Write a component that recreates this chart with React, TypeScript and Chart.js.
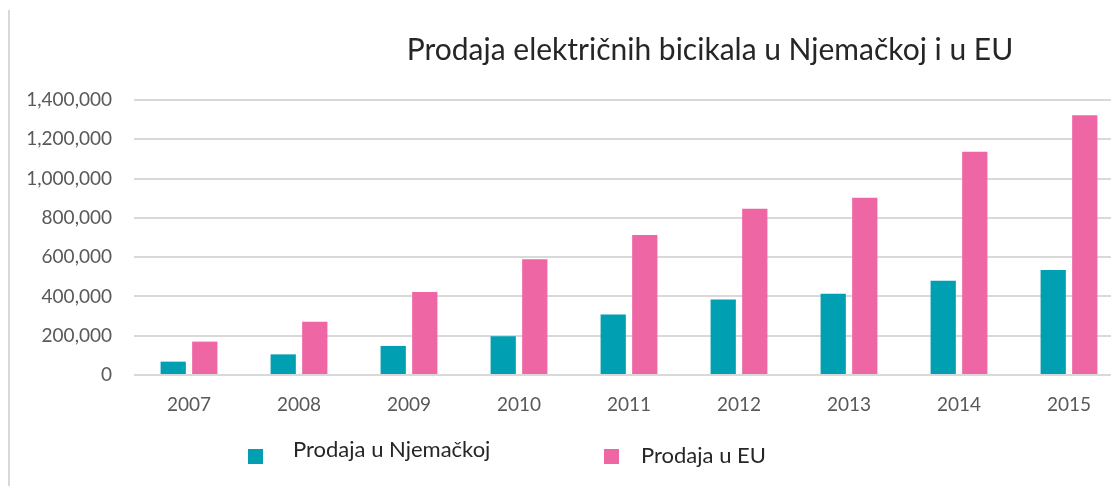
import React, { useEffect, useRef } from "react";
import { Chart, registerables } from "chart.js";

Chart.register(...registerables);

const years = ["2007", "2008", "2009", "2010", "2011", "2012", "2013", "2014", "2015"];
const germanySales = [68000, 105000, 148000, 197000, 308000, 384000, 414000, 480000, 535000];
const euSales = [170000, 271000, 422000, 589000, 713000, 847000, 903000, 1137000, 1323000];
const yTickValues = [0, 200000, 400000, 600000, 800000, 1000000, 1200000, 1400000];

const titleText = "Prodaja električnih bicikala u Njemačkoj i u EU";
const seriesNames = ["Prodaja u Njemačkoj", "Prodaja u EU"];
const colors = ["#009fb1", "#ef66a4"];

const FONT = "Lato, 'Open Sans', sans-serif";

export default function App() {
  const canvasRef = useRef<HTMLCanvasElement | null>(null);

  useEffect(() => {
    const canvas = canvasRef.current;
    if (!canvas) return;
    const chart = new Chart(canvas, {
      type: "bar",
      data: {
        labels: years,
        datasets: [
          {
            label: seriesNames[0],
            data: germanySales,
            backgroundColor: colors[0],
            categoryPercentage: 0.574,
            barPercentage: 0.8,
          },
          {
            label: seriesNames[1],
            data: euSales,
            backgroundColor: colors[1],
            categoryPercentage: 0.574,
            barPercentage: 0.8,
          },
        ],
      },
      options: {
        animation: false,
        responsive: false,
        maintainAspectRatio: false,
        layout: { padding: { top: 100, right: 0, bottom: 0, left: 0 } },
        plugins: {
          legend: { display: false },
          title: { display: false },
          tooltip: { enabled: false },
        },
        scales: {
          x: {
            grid: { display: false, drawTicks: false },
            border: { display: false },
            ticks: {
              color: "#595959",
              font: { family: FONT, size: 19 },
              padding: 18,
            },
            afterFit: (scale: any) => {
              scale.height = 111;
            },
          },
          y: {
            min: 0,
            max: 1400000,
            afterBuildTicks: (scale: any) => {
              scale.ticks = yTickValues.map((v) => ({ value: v }));
            },
            grid: { color: "#d9d9d9", lineWidth: 2, drawTicks: false },
            border: { display: false },
            ticks: {
              color: "#595959",
              font: { family: FONT, size: 19 },
              padding: 22,
              callback: (v: any) => Number(v).toLocaleString("en-US"),
            },
            afterFit: (scale: any) => {
              scale.width = 134;
            },
          },
        },
      },
    });
    return () => chart.destroy();
  }, []);

  const legendText: React.CSSProperties = {
    position: "absolute",
    fontFamily: FONT,
    fontSize: 22,
    color: "#262626",
    whiteSpace: "nowrap",
    lineHeight: "26px",
  };

  return (
    <div
      style={{
        position: "fixed",
        left: 0,
        top: 0,
        width: 1111,
        height: 486,
        overflow: "hidden",
        background: "#ffffff",
      }}
    >
      <div style={{ position: "absolute", left: 8, top: 10, width: 2, height: 480, background: "#d9d9d9" }} />
      <canvas
        ref={canvasRef}
        width={1124}
        height={486}
        style={{ position: "absolute", left: 0, top: 0, width: 1124, height: 486 }}
      />
      <div
        style={{
          position: "absolute",
          left: 0,
          top: 30,
          width: 1420,
          textAlign: "center",
          fontFamily: FONT,
          fontSize: 30,
          lineHeight: "36px",
          color: "#262626",
          whiteSpace: "nowrap",
        }}
      >
        {titleText}
      </div>
      <div style={{ position: "absolute", left: 248, top: 449, width: 15, height: 15, background: colors[0] }} />
      <div style={{ ...legendText, left: 293, top: 436 }}>{seriesNames[0]}</div>
      <div style={{ position: "absolute", left: 604, top: 449, width: 15, height: 15, background: colors[1] }} />
      <div style={{ ...legendText, left: 641, top: 442 }}>{seriesNames[1]}</div>
    </div>
  );
}
